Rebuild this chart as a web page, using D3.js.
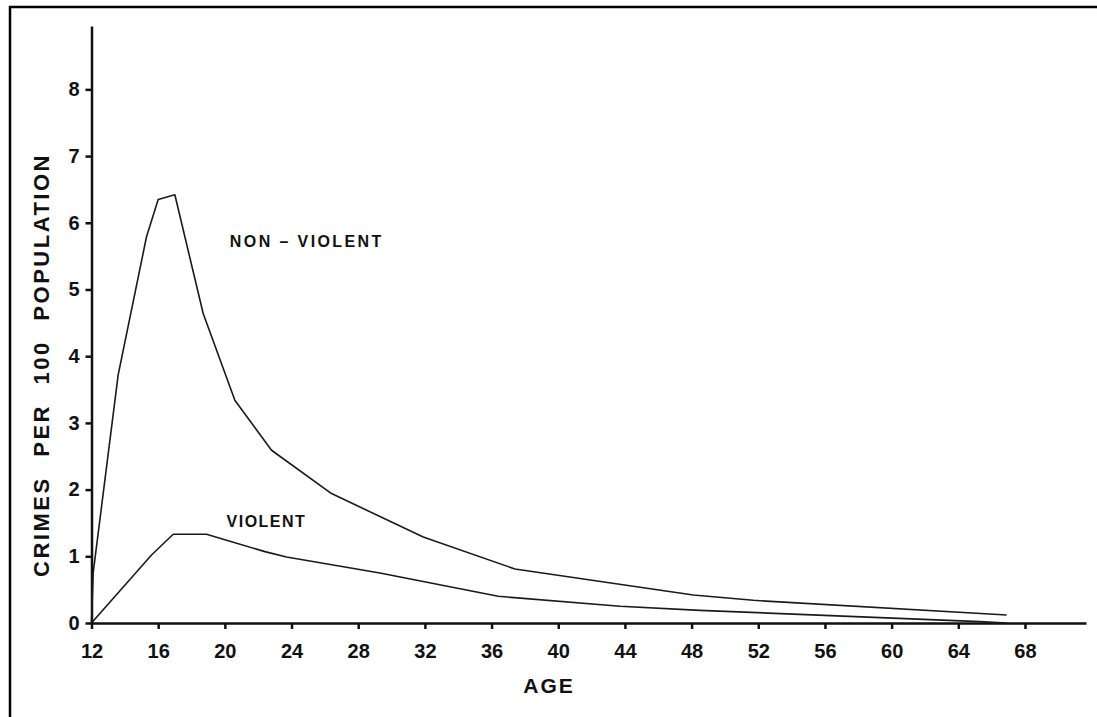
<!DOCTYPE html>
<html>
<head>
<meta charset="utf-8">
<script src="https://cdn.jsdelivr.net/npm/d3@7"></script>
<style>
  body { margin: 0; background: #fff; }
  svg { display: block; }
  .axis path, .axis line { stroke: #111; stroke-width: 2.5; }
  .axis text { font-family: "Liberation Sans", Arial, sans-serif; font-weight: bold; font-size: 20px; fill: #111; }
  .curve { fill: none; stroke: #1a1a1a; stroke-width: 1.6; stroke-linejoin: round; }
  .lbl { font-family: "Liberation Sans", Arial, sans-serif; fill: #111; }
</style>
</head>
<body>
<svg id="chart" width="1097" height="717"></svg>
<script>
// ages and rates
const nonViolentAge  = [12, 12.1, 13.6, 15.3, 16.0, 17.0, 18.7, 20.6, 22.8, 26.4, 31.9, 37.4, 48.1, 51.7, 66.9];
const nonViolentRate = [0, 0.75, 3.72, 5.79, 6.35, 6.42, 4.64, 3.34, 2.59, 1.94, 1.29, 0.81, 0.42, 0.34, 0.12];

const violentAge  = [12, 15.6, 16.9, 18.9, 20.1, 22.4, 23.7, 29.3, 36.4, 43.7, 48.5, 65.3, 66.9];
const violentRate = [0, 1.02, 1.33, 1.33, 1.24, 1.07, 0.99, 0.75, 0.40, 0.25, 0.19, 0.02, 0];

const ageTicks  = [12, 16, 20, 24, 28, 32, 36, 40, 44, 48, 52, 56, 60, 64, 68];
const rateTicks = [0, 1, 2, 3, 4, 5, 6, 7, 8];

const svg = d3.select("#chart");

// frame (only top and left edges fall inside the picture)
svg.append("path")
  .attr("d", "M10,717V7H1097")
  .attr("fill", "none")
  .attr("stroke", "#000")
  .attr("stroke-width", 2.5);

const x = d3.scaleLinear().domain([12, 71.66]).range([91.5, 1086]);
const y = d3.scaleLinear().domain([0, 8.95]).range([623, 26]);

const xAxis = d3.axisBottom(x)
  .tickValues(ageTicks)
  .tickSize(6)
  .tickSizeOuter(0)
  .tickPadding(15);
const yAxis = d3.axisLeft(y)
  .tickValues(rateTicks)
  .tickSize(6)
  .tickSizeOuter(0)
  .tickPadding(6);

svg.append("g")
  .attr("class", "x axis")
  .attr("transform", "translate(0," + y(0) + ")")
  .call(xAxis);
svg.append("g")
  .attr("class", "y axis")
  .attr("transform", "translate(" + x(12) + ",0)")
  .call(yAxis);

const line = d3.line().x(d => x(d[0])).y(d => y(d[1]));

svg.append("path")
  .attr("class", "curve")
  .attr("d", line(d3.zip(nonViolentAge, nonViolentRate)));
svg.append("path")
  .attr("class", "curve")
  .attr("d", line(d3.zip(violentAge, violentRate)));

// curve labels
svg.append("text")
  .attr("class", "lbl")
  .attr("x", x(20.3))
  .attr("y", y(5.63))
  .style("font-size", "16px")
  .style("font-weight", "600")
  .style("letter-spacing", "2.4px")
  .text("NON – VIOLENT");
svg.append("text")
  .attr("class", "lbl")
  .attr("x", x(20.1))
  .attr("y", y(1.44))
  .style("font-size", "16px")
  .style("font-weight", "600")
  .style("letter-spacing", "1.5px")
  .text("VIOLENT");

// axis titles
svg.append("text")
  .attr("class", "lbl")
  .attr("x", 549)
  .attr("y", 693)
  .attr("text-anchor", "middle")
  .style("font-size", "21px")
  .style("font-weight", "bold")
  .style("letter-spacing", "2px")
  .text("AGE");
svg.append("text")
  .attr("class", "lbl")
  .attr("transform", "translate(49,365) rotate(-90)")
  .attr("text-anchor", "middle")
  .style("font-size", "22px")
  .style("font-weight", "bold")
  .style("letter-spacing", "2.5px")
  .style("word-spacing", "11px")
  .text("CRIMES PER 100 POPULATION");
</script>
</body>
</html>
